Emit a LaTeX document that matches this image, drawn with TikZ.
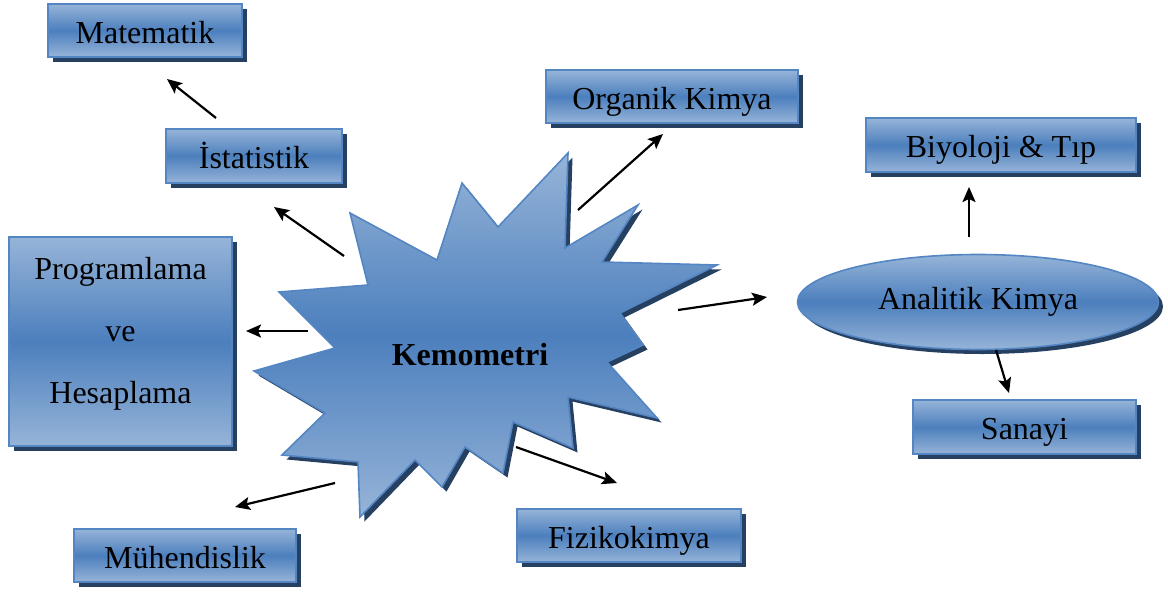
\documentclass[tikz,border=0pt]{standalone}
\usepackage{fontspec}
\setmainfont{Liberation Serif}
\usetikzlibrary{shapes.geometric,shadows,arrows.meta}
\definecolor{lightblue}{RGB}{150,180,216}
\definecolor{darkblue}{RGB}{76,127,189}
\definecolor{edgeblue}{RGB}{84,134,196}
\definecolor{shadowblue}{RGB}{38,64,98}
\tikzset{
  bluefill/.style={top color=lightblue, bottom color=lightblue, middle color=darkblue,
    draw=edgeblue, line width=1.6pt,
    drop shadow={shadow xshift=4.5pt, shadow yshift=-4.5pt, fill=shadowblue, opacity=1}},
  boxnode/.style={bluefill, rectangle, inner sep=0pt, align=center,
    font=\fontsize{32}{62}\selectfont},
  onebox/.style={boxnode, text height=30pt, text depth=5pt},
  ellnode/.style={bluefill, ellipse, inner sep=0pt,
    font=\fontsize{32}{37}\selectfont},
  arr/.style={line width=2.2pt, -{Stealth[length=15pt,width=13pt,inset=3pt]}}
}
\begin{document}
\begin{tikzpicture}[x=1pt,y=-1pt]
\useasboundingbox (0,0) rectangle (1168,595);
% starburst
\path[bluefill] (350,213) -- (368,285) -- (279,292) -- (335,348) -- (254,371)
  -- (325,413) -- (282,455) -- (358,462) -- (360,517) -- (415,460) -- (442,487)
  -- (465,447) -- (503,473) -- (513,422) -- (573,448) -- (568,397) -- (657,418)
  -- (607,362) -- (643,345) -- (620,313) -- (717,265) -- (602,262) -- (638,205)
  -- (565,248) -- (568,153) -- (498,227) -- (462,183) -- (437,260) -- cycle;
\node[font=\fontsize{32}{37}\selectfont\bfseries] (kem) at (470,355) {Kemometri};
% boxes
\node[onebox, minimum width=194pt, minimum height=53pt] (mat) at (145,30.5) {Matematik};
\node[onebox, minimum width=176pt, minimum height=54pt] (ist) at (254,156) {İstatistik};
\node[onebox, minimum width=252pt, minimum height=53pt] (org) at (672,96.5) {Organik Kimya};
\node[onebox, minimum width=270pt, minimum height=54pt] (bio) at (1001,145) {Biyoloji \& Tıp};
\node[boxnode, minimum width=223pt, minimum height=209pt, text depth=22pt] (prog) at (120.5,341.5) {Programlama\\ve\\Hesaplama};
\node[ellnode, minimum width=361pt, minimum height=95pt] (ana) at (978,302) {Analitik Kimya};
\node[onebox, minimum width=223pt, minimum height=54pt] (san) at (1024.5,427) {Sanayi};
\node[onebox, minimum width=224pt, minimum height=53pt] (fiz) at (629,535.5) {Fizikokimya};
\node[onebox, minimum width=222pt, minimum height=53pt] (muh) at (185,555.5) {Mühendislik};
% arrow end points
\coordinate (s1) at (344,256); \coordinate (e1) at (274,207);
\coordinate (s2) at (216,118); \coordinate (e2) at (167,79);
\coordinate (s3) at (578,210); \coordinate (e3) at (663,134);
\coordinate (s4) at (678,310); \coordinate (e4) at (767,297);
\coordinate (s5) at (969,237); \coordinate (e5) at (969,187);
\coordinate (s6) at (996,350); \coordinate (e6) at (1009,393);
\coordinate (s7) at (308,331); \coordinate (e7) at (246,331);
\coordinate (s8) at (335,483); \coordinate (e8) at (235,507);
\coordinate (s9) at (516,447); \coordinate (e9) at (617,483);
\foreach \i in {1,...,9} { \draw[arr] (s\i) -- (e\i); }
\end{tikzpicture}
\end{document}
